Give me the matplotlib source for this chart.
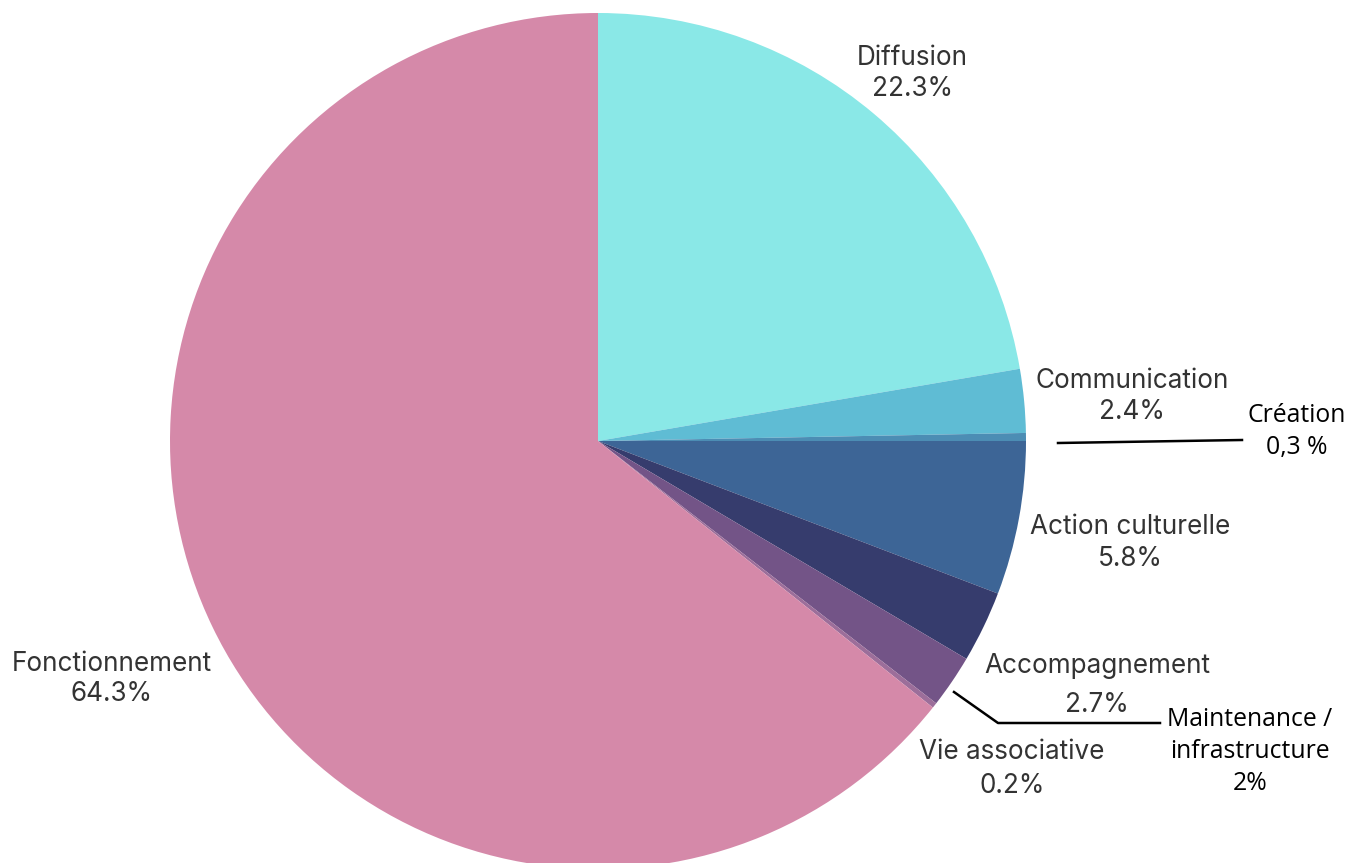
import matplotlib
matplotlib.use("Agg")
import matplotlib.pyplot as plt

# repartition du budget (%), dans l'ordre horaire depuis midi
categories = ["Diffusion", "Communication", "Création", "Action culturelle",
              "Accompagnement", "Maintenance /\ninfrastructure", "Vie associative",
              "Fonctionnement"]
values = [22.3, 2.4, 0.3, 5.8, 2.7, 2.0, 0.2, 64.3]
value_labels = ["22.3%", "2.4%", "0,3 %", "5.8%", "2.7%", "2%", "0.2%", "64.3%"]
colors = ["#8AE8E7", "#5FBCD4", "#4C8DB4", "#3D6596", "#363C6D",
          "#735487", "#9C6E9A", "#D589A9"]

W, H = 1356, 863
fig = plt.figure(figsize=(W / 100, H / 100), dpi=100)
ax = fig.add_axes([0, 0, 1, 1])

cx, cy, r = 598, H - 441, 428
ax.pie(values, colors=colors, startangle=90, counterclock=False,
       center=(cx, cy), radius=r, wedgeprops={"linewidth": 0})

ax.set_xlim(0, W)
ax.set_ylim(0, H)
ax.set_aspect("equal")
ax.axis("off")

grey = "#333333"
fs_grey = 18.8
fs_black = 17.8

# (x, y du nom, y de la valeur, couleur) en pixels depuis le haut
pos = {
    "Diffusion": (912, 58, 89, grey),
    "Communication": (1132, 381, 412, grey),
    "Création": (1297, 415, 447, "black"),
    "Action culturelle": (1130, 527, 559, grey),
    "Accompagnement": (1097, 666, 705, grey),
    "Vie associative": (1012, 752, 786, grey),
    "Fonctionnement": (112, 664, 694, grey),
}

for cat, val in zip(categories, value_labels):
    if cat in pos:
        x, y1, y2, c = pos[cat]
        if c == "black":
            fam, fs = ["Open Sans", "DejaVu Sans"], fs_black
        else:
            fam, fs = ["Inter", "DejaVu Sans"], fs_grey
        ax.text(x, H - y1, cat, ha="center", va="center", fontsize=fs, color=c, family=fam)
        ax.text(x, H - y2, val, ha="center", va="center", fontsize=fs, color=c, family=fam)

# maintenance : etiquette sur trois lignes
mx = 1250
for txt, y in zip(["Maintenance /", "infrastructure", value_labels[5]], [720, 752, 784]):
    ax.text(mx, H - y, txt, ha="center", va="center", fontsize=fs_black, color="black",
            family=["Open Sans", "DejaVu Sans"])

# traits de rappel
ax.plot([1058, 1242], [H - 443, H - 440], color="black", lw=1.8)
ax.plot([954, 998, 1160], [H - 692, H - 723, H - 723], color="black", lw=1.8)

fig.savefig("out.png", dpi=100)
